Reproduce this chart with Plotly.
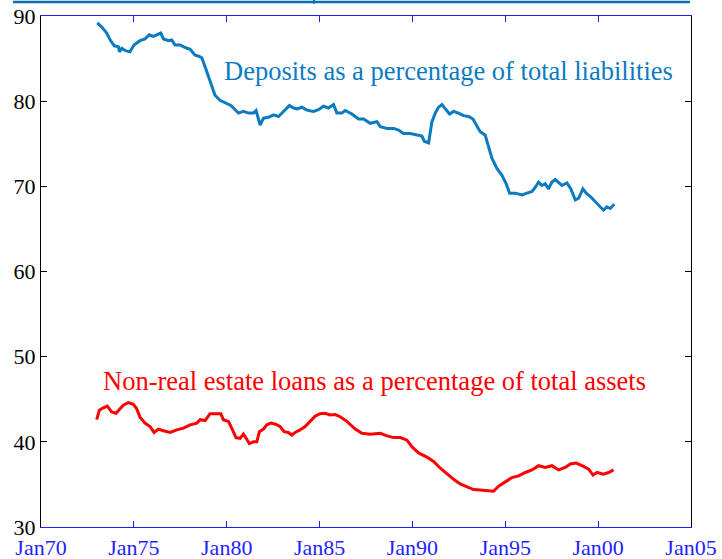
import plotly.graph_objects as go

# ---- data (decimal years, percentages) ----
dep_year = [1973.03, 1973.27, 1973.54, 1973.72, 1973.95, 1974.17, 1974.22, 1974.35, 1974.58, 1974.79,
            1975.01, 1975.33, 1975.60, 1975.83, 1976.05, 1976.23, 1976.45, 1976.60, 1976.86, 1977.04,
            1977.22, 1977.49, 1977.76, 1978.03, 1978.30, 1978.47, 1978.66, 1978.84, 1979.01, 1979.20,
            1979.37, 1979.64, 1979.82, 1980.00, 1980.22, 1980.36, 1980.63, 1980.90, 1981.17, 1981.44,
            1981.58, 1981.80, 1981.98, 1982.25, 1982.52, 1982.79, 1982.97, 1983.15, 1983.38, 1983.60,
            1983.81, 1984.05, 1984.31, 1984.67, 1984.94, 1985.21, 1985.48, 1985.75, 1985.93, 1986.20,
            1986.38, 1986.74, 1987.10, 1987.37, 1987.73, 1988.09, 1988.27, 1988.63, 1988.99, 1989.25,
            1989.52, 1989.88, 1990.24, 1990.51, 1990.64, 1990.87, 1991.05, 1991.23, 1991.41, 1991.59,
            1991.77, 1992.00, 1992.22, 1992.48, 1992.75, 1993.02, 1993.26, 1993.47, 1993.65, 1993.92,
            1994.10, 1994.28, 1994.55, 1994.82, 1995.05, 1995.23, 1995.54, 1995.90, 1996.17, 1996.44,
            1996.62, 1996.79, 1996.97, 1997.15, 1997.33, 1997.51, 1997.69, 1997.87, 1998.05, 1998.32,
            1998.53, 1998.77, 1998.95, 1999.18, 1999.36, 1999.58, 1999.85, 2000.08, 2000.29, 2000.47,
            2000.65, 2000.87]
dep_value = [89.2, 88.7, 88.0, 87.2, 86.5, 86.4, 85.8, 86.2, 85.9, 85.8,
             86.6, 87.1, 87.3, 87.8, 87.6, 87.8, 88.0, 87.3, 87.1, 87.2,
             86.6, 86.6, 86.3, 86.1, 85.4, 85.3, 85.1, 84.0, 83.0, 81.9,
             80.7, 80.1, 79.9, 79.7, 79.5, 79.2, 78.6, 78.8, 78.6, 78.6,
             78.9, 77.2, 78.0, 78.1, 78.4, 78.2, 78.6, 79.0, 79.5, 79.2,
             79.1, 79.3, 78.95, 78.8, 79.0, 79.4, 79.2, 79.6, 78.6, 78.6,
             78.9, 78.5, 77.9, 77.9, 77.4, 77.6, 77.0, 76.8, 76.8, 76.6,
             76.2, 76.2, 76.0, 75.9, 75.3, 75.1, 77.6, 78.6, 79.3, 79.6,
             79.1, 78.5, 78.8, 78.6, 78.3, 78.2, 77.9, 77.0, 76.4, 76.0,
             74.7, 73.3, 72.1, 71.3, 70.3, 69.2, 69.2, 69.0, 69.2, 69.4,
             69.9, 70.5, 70.1, 70.3, 69.7, 70.5, 70.8, 70.4, 70.1, 70.4,
             69.7, 68.4, 68.6, 69.7, 69.2, 68.8, 68.2, 67.7, 67.2, 67.6,
             67.4, 67.9]

loan_year = [1973.00, 1973.14, 1973.36, 1973.57, 1973.81, 1974.04, 1974.22, 1974.43, 1974.70, 1974.97,
             1975.15, 1975.33, 1975.60, 1975.87, 1976.09, 1976.32, 1976.59, 1976.95, 1977.31, 1977.67,
             1978.03, 1978.39, 1978.57, 1978.84, 1979.10, 1979.46, 1979.68, 1979.82, 1980.09, 1980.27,
             1980.50, 1980.72, 1980.90, 1981.08, 1981.22, 1981.44, 1981.62, 1981.76, 1981.98, 1982.16,
             1982.37, 1982.60, 1982.87, 1983.09, 1983.32, 1983.50, 1983.68, 1983.95, 1984.22, 1984.49,
             1984.76, 1985.03, 1985.30, 1985.57, 1985.84, 1986.11, 1986.47, 1986.92, 1987.28, 1987.73,
             1988.27, 1988.63, 1988.99, 1989.35, 1989.71, 1989.98, 1990.33, 1990.78, 1991.14, 1991.50,
             1991.86, 1992.22, 1992.57, 1992.93, 1993.29, 1993.65, 1994.01, 1994.37, 1994.64, 1995.00,
             1995.36, 1995.72, 1996.08, 1996.44, 1996.79, 1997.15, 1997.51, 1997.87, 1998.23, 1998.50,
             1998.82, 1999.13, 1999.49, 1999.72, 1999.94, 2000.29, 2000.56, 2000.83]
loan_value = [42.6, 43.7, 44.0, 44.2, 43.5, 43.35, 43.8, 44.3, 44.6, 44.4,
              43.9, 42.9, 42.2, 41.8, 41.1, 41.5, 41.3, 41.1, 41.4, 41.6,
              42.0, 42.2, 42.6, 42.5, 43.3, 43.35, 43.3, 42.6, 42.4, 41.6,
              40.5, 40.4, 40.9, 40.3, 39.8, 40.0, 40.0, 41.2, 41.5, 42.0,
              42.2, 42.1, 41.8, 41.2, 41.1, 40.8, 41.1, 41.4, 41.8, 42.4,
              43.0, 43.3, 43.35, 43.15, 43.2, 42.95, 42.4, 41.5, 41.0, 40.9,
              41.0, 40.7, 40.5, 40.5, 40.2, 39.4, 38.7, 38.2, 37.7, 36.9,
              36.2, 35.6, 35.05, 34.7, 34.4, 34.35, 34.3, 34.2, 34.8, 35.3,
              35.8, 36.0, 36.4, 36.7, 37.2, 37.0, 37.2, 36.7, 37.0, 37.4,
              37.5, 37.2, 36.8, 36.1, 36.4, 36.2, 36.4, 36.7]

x_tickvals = [1970, 1975, 1980, 1985, 1990, 1995, 2000, 2005]
x_ticktext = ["Jan70", "Jan75", "Jan80", "Jan85", "Jan90", "Jan95", "Jan00", "Jan05"]
y_tickvals = [30, 40, 50, 60, 70, 80, 90]

dep_label = "Deposits as a percentage of total liabilities"
loan_label = "Non-real estate loans as a percentage of total assets"

DEP_COLOR = "#0b7bc1"
LOAN_COLOR = "#ff0000"
AXIS_BLUE = "#1f1fff"
FONT = "Liberation Serif"

fig = go.Figure()
fig.add_trace(go.Scatter(x=dep_year, y=dep_value, mode="lines",
                         line=dict(color=DEP_COLOR, width=3), showlegend=False, hoverinfo="skip"))
fig.add_trace(go.Scatter(x=loan_year, y=loan_value, mode="lines",
                         line=dict(color=LOAN_COLOR, width=3), showlegend=False, hoverinfo="skip"))

fig.add_annotation(x=1979.75, y=83.6, text=dep_label, showarrow=False,
                   xanchor="left", yanchor="middle",
                   font=dict(family=FONT, size=26.5, color=DEP_COLOR))
fig.add_annotation(x=1973.22, y=47.2, text=loan_label, showarrow=False,
                   xanchor="left", yanchor="middle",
                   font=dict(family=FONT, size=26.5, color=LOAN_COLOR))

# strip at very top (cut-off element in the reference)
fig.add_shape(type="line", xref="paper", yref="paper", x0=-0.043, x1=0.9985,
              y0=1.0275, y1=1.0275, line=dict(color="#0a6eb0", width=2.5))
fig.add_shape(type="line", xref="paper", yref="paper", x0=0.42, x1=0.42,
              y0=1.024, y1=1.035, line=dict(color="#0a6eb0", width=2))

fig.update_layout(
    width=722, height=559, autosize=False,
    margin=dict(l=41, r=31, t=16, b=32, autoexpand=False),
    paper_bgcolor="white", plot_bgcolor="white",
    font=dict(family=FONT, size=22, color="black"),
    xaxis=dict(range=[1970, 2005], tickvals=x_tickvals, ticktext=x_ticktext, automargin=False,
               showgrid=False, zeroline=False, showline=True, linecolor=AXIS_BLUE, linewidth=1.2,
               mirror="ticks", ticks="inside", ticklen=6, tickcolor=AXIS_BLUE, tickwidth=1,
               tickfont=dict(family=FONT, size=22, color=AXIS_BLUE)),
    yaxis=dict(range=[30, 90], tickvals=y_tickvals, automargin=False,
               showgrid=False, zeroline=False, showline=True, linecolor="black", linewidth=1.2,
               mirror="ticks", ticks="inside", ticklen=6, tickcolor="black", tickwidth=1,
               tickfont=dict(family=FONT, size=22, color="black")),
)

fig.write_html("out.html", config={"displayModeBar": False},
               post_script="document.body.style.margin='0';document.body.style.overflow='hidden';")
